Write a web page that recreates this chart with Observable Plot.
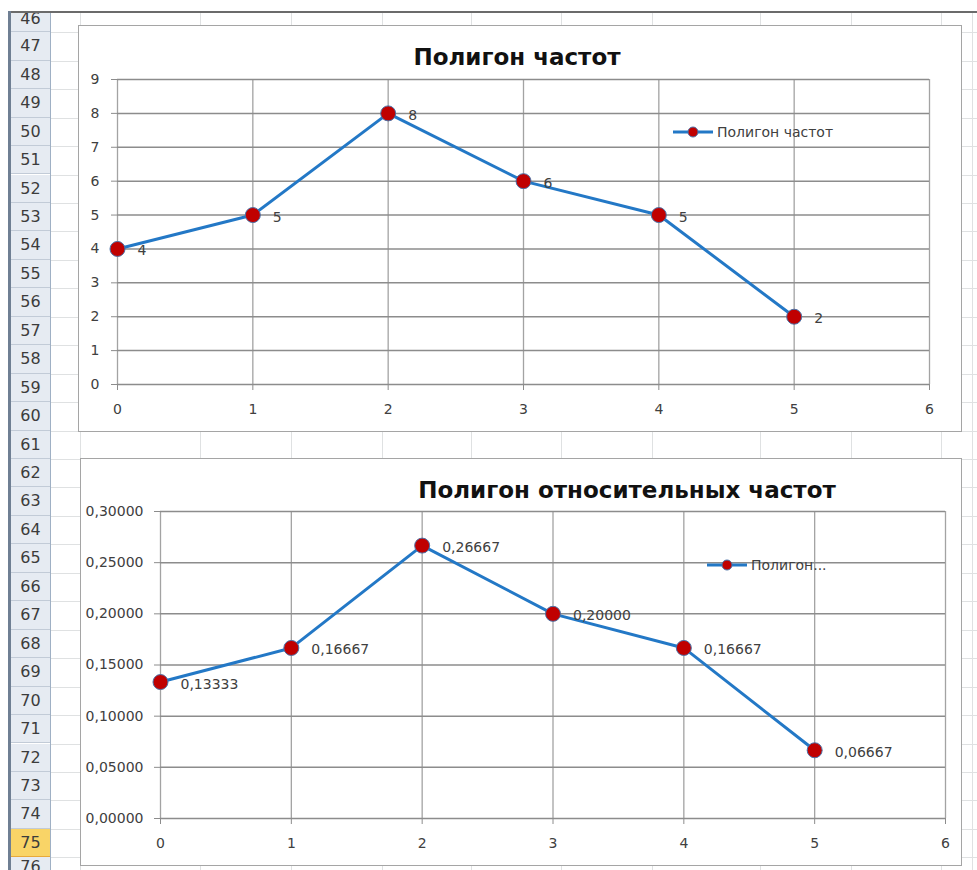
<!DOCTYPE html>
<html>
<head>
<meta charset="utf-8">
<script src="https://cdn.jsdelivr.net/npm/d3@7"></script>
<script src="https://cdn.jsdelivr.net/npm/@observablehq/plot@0.6"></script>
<style>
  body { margin: 0; background: #fff; font-family: "DejaVu Sans", sans-serif; }
  #sheet { position: relative; width: 977px; height: 870px; overflow: hidden; background: #fff; }
  .hline { position: absolute; height: 1px; background: #dfe1e2; left: 50px; right: 0; }
  .vline { position: absolute; width: 1px; background: #dfe1e2; top: 12px; bottom: 0; }
  .rowhdr { position: absolute; left: 11px; width: 39px; background: #e6ebf2; border-bottom: 1px solid #c2cbd7;
            box-sizing: border-box; text-align: center; color: #3c3c3c; font-size: 16px; }
  .rowhdr.sel { background: #f9d467; border-bottom: 1px solid #e8a93a; }
  .frame { position: absolute; background: #fff; border: 1.5px solid #a5a5a5; box-sizing: border-box; }
  .title { position: absolute; font-weight: bold; font-size: 23px; color: #111; white-space: nowrap;
           transform: translate(-50%, -50%); }
  .legend { position: absolute; display: flex; align-items: center; font-size: 14px; color: #404040; white-space: nowrap;
            transform: translateY(-50%); }
  .chart { position: absolute; }
</style>
</head>
<body>
<div id="sheet"></div>
<script>
// Frequency polygon data
const xValues = [0, 1, 2, 3, 4, 5];
const frequencies = [4, 5, 8, 6, 5, 2];
const relativeFrequencies = [0.13333, 0.16667, 0.26667, 0.20000, 0.16667, 0.06667];

// Axis ticks
const xTicks = [0, 1, 2, 3, 4, 5, 6];
const freqTicks = [0, 1, 2, 3, 4, 5, 6, 7, 8, 9];
const relTicks = [0, 0.05, 0.10, 0.15, 0.20, 0.25, 0.30];

// Texts
const title1 = "Полигон частот";
const title2 = "Полигон относительных частот";
const legend1 = "Полигон частот";
const legend2 = "Полигон...";

const ru = d3.formatLocale({decimal: ",", thousands: "\u00a0", grouping: [3], currency: ["", ""]});
const fmt5 = ru.format(".5f");
const fmtInt = ru.format("d");

const sheet = document.getElementById("sheet");

// --- spreadsheet backdrop: row headers and cell grid ---
const rowTop = r => 3.8 + (r - 46) * 28.45;
const rowH = 28.45;
const rowNumbers = d3.range(46, 77);
for (const r of rowNumbers) {
  const y = rowTop(r) + rowH;
  const hl = document.createElement("div");
  hl.className = "hline";
  hl.style.top = y + "px";
  sheet.appendChild(hl);
}
const colEdges = [80, 200, 291, 382, 471, 561, 652, 760, 851, 941, 972];
for (const x of colEdges) {
  const vl = document.createElement("div");
  vl.className = "vline";
  vl.style.left = x + "px";
  sheet.appendChild(vl);
}
for (const r of rowNumbers) {
  const top = Math.max(12, rowTop(r));
  const bottom = rowTop(r) + rowH;
  const d = document.createElement("div");
  d.className = "rowhdr" + (r === 75 ? " sel" : "");
  d.style.top = top + "px";
  d.style.height = (bottom - top) + "px";
  d.style.lineHeight = (bottom - top) + "px";
  if (r === 46) d.style.lineHeight = (2 * (bottom - top) - rowH + 2) + "px";
  if (r === 76) d.style.lineHeight = "20px";
  d.textContent = r;
  sheet.appendChild(d);
}
// header separator, window edges
const sep = document.createElement("div");
Object.assign(sep.style, {position: "absolute", left: "50px", top: "12px", bottom: "0", width: "1px", background: "#9fb0c4"});
sheet.appendChild(sep);
const topEdge = document.createElement("div");
Object.assign(topEdge.style, {position: "absolute", left: "8px", right: "0", top: "11px", height: "2px", background: "#6b6b6b"});
sheet.appendChild(topEdge);
const leftEdge = document.createElement("div");
Object.assign(leftEdge.style, {position: "absolute", left: "8px", top: "11px", bottom: "0", width: "3px", background: "#6f7f93"});
sheet.appendChild(leftEdge);

// --- chart builder ---
function polygonChart({box, margins, yDomain, yTicks, yFormat, values, labelFormat, tickPaddingY}) {
  const data = xValues.map((x, i) => ({x, y: values[i]}));
  const frame = document.createElement("div");
  frame.className = "frame";
  Object.assign(frame.style, {left: box.left + "px", top: box.top + "px", width: box.width + "px", height: box.height + "px"});
  sheet.appendChild(frame);

  const svg = Plot.plot({
    width: box.width,
    height: box.height,
    ...margins,
    style: {background: "transparent", color: "#404040", fontFamily: "DejaVu Sans, sans-serif", fontSize: "14px", overflow: "visible"},
    x: {domain: [0, 6]},
    y: {domain: yDomain},
    marks: [
      Plot.gridX(xTicks, {stroke: "#a3a3a3", strokeOpacity: 1, strokeWidth: 1.3}),
      Plot.gridY(yTicks, {stroke: "#8c8c8c", strokeOpacity: 1, strokeWidth: 1.5}),
      Plot.axisX(xTicks, {tickSize: 6, tickPadding: 14, stroke: "#8c8c8c", fill: "#404040", label: null, tickFormat: fmtInt, fontSize: 14}),
      Plot.axisY(yTicks, {tickSize: 6, tickPadding: tickPaddingY, stroke: "#8c8c8c", fill: "#404040", label: null, tickFormat: yFormat, fontSize: 14}),
      Plot.line(data, {x: "x", y: "y", stroke: "#2378c6", strokeWidth: 3}),
      Plot.dot(data, {x: "x", y: "y", r: 7.5, fill: "#c00000", stroke: "#4a72a8", strokeWidth: 1}),
      Plot.text(data, {x: "x", y: "y", text: d => labelFormat(d.y), textAnchor: "start", dx: 20, dy: 2, fontSize: 14, fill: "#404040"})
    ]
  });
  svg.classList.add("chart");
  svg.style.left = box.left + "px";
  svg.style.top = box.top + "px";
  sheet.appendChild(svg);
}

function addTitle(text, cx, cy) {
  const t = document.createElement("div");
  t.className = "title";
  t.style.left = cx + "px";
  t.style.top = cy + "px";
  t.textContent = text;
  sheet.appendChild(t);
}

function addLegend(text, x, y) {
  const l = document.createElement("div");
  l.className = "legend";
  l.style.left = x + "px";
  l.style.top = y + "px";
  l.innerHTML = `<svg width="40" height="14" style="margin-right:4px"><line x1="0" x2="40" y1="7" y2="7" stroke="#2378c6" stroke-width="3"/><circle cx="20" cy="7" r="5" fill="#c00000" stroke="#4a72a8" stroke-width="1"/></svg><span></span>`;
  l.querySelector("span").textContent = text;
  sheet.appendChild(l);
}

// Polygon of frequencies
polygonChart({
  box: {left: 78, top: 25, width: 884, height: 407},
  margins: {marginLeft: 39, marginRight: 33, marginTop: 54, marginBottom: 48},
  yDomain: [0, 9], yTicks: freqTicks, yFormat: fmtInt,
  values: frequencies, labelFormat: fmtInt, tickPaddingY: 12
});
addTitle(title1, 517, 57);
addLegend(legend1, 673, 132);

// Polygon of relative frequencies
polygonChart({
  box: {left: 80, top: 458, width: 882, height: 408},
  margins: {marginLeft: 80, marginRight: 17, marginTop: 53, marginBottom: 48},
  yDomain: [0, 0.3], yTicks: relTicks, yFormat: fmt5,
  values: relativeFrequencies, labelFormat: fmt5, tickPaddingY: 11
});
addTitle(title2, 627, 490);
addLegend(legend2, 707, 565);
</script>
</body>
</html>
